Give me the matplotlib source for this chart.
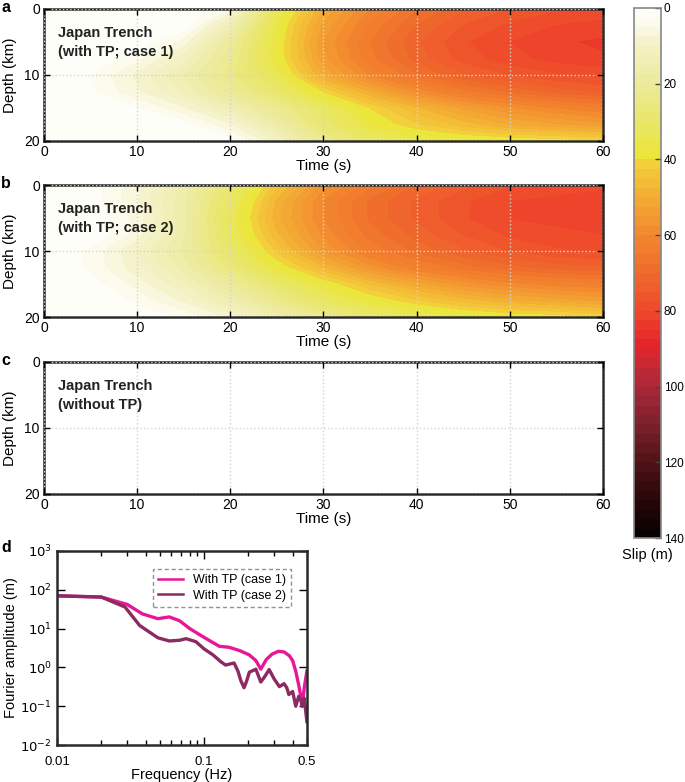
import numpy as np
import matplotlib
matplotlib.use('Agg')
import matplotlib.pyplot as plt
from matplotlib.colors import LinearSegmentedColormap

plt.rcParams['font.family'] = ['Liberation Sans', 'DejaVu Sans']
plt.rcParams['axes.linewidth'] = 1.8
plt.rcParams['axes.edgecolor'] = '#2a2a2a'

# slip grids (m); rows = depth, cols = time
times = [0, 5, 10, 15, 20, 25, 30, 35, 40, 45, 50, 55, 60]
depths = [0, 2.5, 5, 7.5, 10, 12.5, 15, 17.5, 20]

slip_case1 = [
    [0, 0, 0, 0, 5, 32, 50, 60, 67, 72, 75, 77, 78],
    [0, 0, 0, 0, 14, 36, 53, 63, 70, 75, 78, 80, 81],
    [0, 0, 0, 6, 20, 37, 55, 65, 72, 77, 80, 82, 83],
    [0, 0, 4, 11, 22, 37, 54, 64, 71, 76, 79, 81, 82],
    [0, 2.5, 8, 15, 24, 34, 50, 60, 67, 72, 75, 77, 78],
    [0, 2, 7, 13, 21, 29, 40, 50, 58, 64, 68, 71, 73],
    [0, 0, 2, 7, 14, 22, 31, 40, 47, 53, 57, 60, 62],
    [0, 0, 0, 1, 7, 17, 28, 37, 42, 46, 50, 52, 54],
    [0, 0, 0, 0, 1, 10, 22, 30, 34, 36, 37, 38, 39],
]

slip_case2 = [
    [0, 1, 7, 16, 28, 44, 56, 64, 70, 74, 77, 78, 79],
    [0, 1, 7, 17, 31, 48, 60, 68, 73, 77, 80, 81, 82],
    [0, 0, 6, 17, 33, 49, 60, 68, 73, 77, 80, 81, 82],
    [0, 0, 6, 17, 32, 47, 58, 66, 71, 75, 78, 79, 80],
    [0, 3, 10, 18, 30, 43, 55, 63, 68, 72, 75, 77, 78],
    [0, 3, 9, 16, 26, 37, 47, 56, 62, 66, 69, 71, 72],
    [0, 1, 6, 12, 20, 29, 37, 45, 51, 56, 59, 61, 62],
    [0, 0, 3, 8, 15, 23, 31, 37, 42, 46, 49, 51, 53],
    [0, 0, 0.5, 3, 8, 15, 22, 28, 32, 35, 37, 38, 40],
]

panel_titles = ['Japan Trench\n(with TP; case 1)',
                'Japan Trench\n(with TP; case 2)',
                'Japan Trench\n(without TP)']

# Fourier amplitude spectra
freq1 = [0.01, 0.02, 0.03, 0.038, 0.0485, 0.058, 0.068, 0.08, 0.093, 0.11, 0.127,
         0.148, 0.175, 0.203, 0.225, 0.243, 0.265, 0.29, 0.32, 0.35, 0.38, 0.40,
         0.42, 0.44, 0.455, 0.465, 0.48, 0.5]
amp1 = [70, 65, 42, 24, 18, 20, 16, 10, 7.0, 4.8, 3.5, 3.3, 2.7, 2.1, 1.5, 0.9,
        1.6, 2.2, 2.6, 2.5, 2.0, 1.5, 0.8, 0.35, 0.18, 0.1, 0.3, 0.8]
freq2 = [0.01, 0.02, 0.029, 0.0365, 0.0485, 0.058, 0.068, 0.0755, 0.088, 0.1, 0.115,
         0.13, 0.14, 0.16, 0.17, 0.178, 0.187, 0.195, 0.203, 0.225, 0.243, 0.26,
         0.277, 0.30, 0.325, 0.35, 0.365, 0.377, 0.40, 0.42, 0.44, 0.455, 0.465,
         0.48, 0.49, 0.5]
amp2 = [70, 65, 36, 12, 5.8, 4.8, 5.0, 5.5, 4.6, 3.0, 2.1, 1.4, 1.15, 1.3, 0.8,
        0.45, 0.3, 0.45, 0.75, 0.9, 0.42, 0.6, 0.88, 0.5, 0.32, 0.38, 0.3, 0.2,
        0.24, 0.1, 0.18, 0.14, 0.1, 0.16, 0.08, 0.04]

slip_colors = [(0.0, '#ffffff'), (0.035, '#faf9e4'), (0.07, '#f4f2c6'),
               (0.14, '#ecea9c'), (0.21, '#e9e76c'), (0.275, '#ebe63a'),
               (0.29, '#f3d23b'), (0.36, '#f4aa34'), (0.43, '#f2872e'),
               (0.5, '#ef6a2c'), (0.57, '#ee4a2b'), (0.63, '#e8262b'),
               (0.68, '#c42834'), (0.72, '#a8283a'), (0.79, '#7a2029'),
               (0.86, '#4e1218'), (0.93, '#280608'), (1.0, '#050000')]
cmap = LinearSegmentedColormap.from_list('slip', slip_colors)
levels = np.arange(0, 142.5, 2.5)

fig = plt.figure(figsize=(6.85, 7.82), dpi=100)

tops = [0.9885, 0.7634, 0.5371]
letters = ['a', 'b', 'c']
fields = [slip_case1, slip_case2, None]
cs = None
for i in range(3):
    ax = fig.add_axes([0.0642, tops[i] - 0.1688, 0.816, 0.1688])
    if fields[i] is not None:
        cs = ax.contourf(times, depths, np.array(fields[i]), levels=levels,
                         cmap=cmap, vmin=0, vmax=140)
    ax.set_xlim(0, 60)
    ax.set_ylim(20, 0)
    ax.set_xticks([0, 10, 20, 30, 40, 50, 60])
    ax.set_yticks([0, 10, 20])
    ax.grid(True, color='#d4d4d4', linestyle=':', linewidth=1.0)
    ax.set_axisbelow(False)
    ax.tick_params(direction='in', top=True, right=True, length=4, width=1,
                   labelsize=10, pad=3)
    ax.set_xlabel('Time (s)', fontsize=11, labelpad=0)
    ax.set_ylabel('Depth (km)', fontsize=11, labelpad=5)
    ax.text(1.5, 2.6, panel_titles[i], fontsize=10.5, fontweight='bold',
            va='top', ha='left', color='#222222', linespacing=1.4)
    fig.text(0.002, tops[i] + 0.002, letters[i], fontsize=11.5, fontweight='bold',
             va='center', ha='left')

# colorbar
cax = fig.add_axes([0.9255, 0.312, 0.0395, 0.6778])
cb = fig.colorbar(cs, cax=cax, ticks=np.arange(0, 141, 20))
cax.invert_yaxis()
cb.outline.set_edgecolor('#888888')
cb.outline.set_linewidth(1.2)
cax.tick_params(direction='in', length=4, width=1, labelsize=8.5, pad=2,
                color='#444444')
cax.text(0.5, -0.018, 'Slip (m)', transform=cax.transAxes, ha='center', va='top',
         fontsize=10.5)

# panel d
axd = fig.add_axes([0.0832, 0.0473, 0.3648, 0.2481])
axd.plot(freq1, amp1, color='#e8179a', linewidth=2.4, label='With TP (case 1)')
axd.plot(freq2, amp2, color='#8c2a62', linewidth=2.4, label='With TP (case 2)')
axd.set_xscale('log')
axd.set_yscale('log')
axd.set_xlim(0.01, 0.5)
axd.set_ylim(1e-2, 1e3)
axd.set_xticks([0.01, 0.1, 0.5])
axd.set_xticklabels(['0.01', '0.1', '0.5'])
axd.set_yticks([1e-2, 1e-1, 1e0, 1e1, 1e2, 1e3])
axd.set_yticklabels([r'$10^{-2}$', r'$10^{-1}$', r'$10^{0}$', r'$10^{1}$',
                     r'$10^{2}$', r'$10^{3}$'])
axd.yaxis.set_minor_locator(matplotlib.ticker.NullLocator())
axd.tick_params(which='both', direction='in', top=True, right=True, labelsize=9.5)
axd.tick_params(axis='x', which='both', pad=8)
axd.tick_params(which='major', length=6, width=1)
axd.tick_params(which='minor', length=3.5, width=1)
axd.set_xlabel('Frequency (Hz)', fontsize=10.5, labelpad=0)
axd.set_ylabel('Fourier amplitude (m)', fontsize=10.5, labelpad=2)
leg = axd.legend(loc='upper right', fontsize=9, frameon=True, fancybox=False,
                 handlelength=2.0, borderpad=0.4, labelspacing=0.3,
                 bbox_to_anchor=(0.96, 0.94))
leg.get_frame().set_edgecolor('#777777')
leg.get_frame().set_linestyle((0, (3, 2)))
leg.get_frame().set_linewidth(1.0)
for line in leg.get_lines():
    line.set_linewidth(1.8)
fig.text(0.002, 0.2954 + 0.004, 'd', fontsize=11.5, fontweight='bold',
         va='center', ha='left')

fig.savefig('out.png', dpi=100)
